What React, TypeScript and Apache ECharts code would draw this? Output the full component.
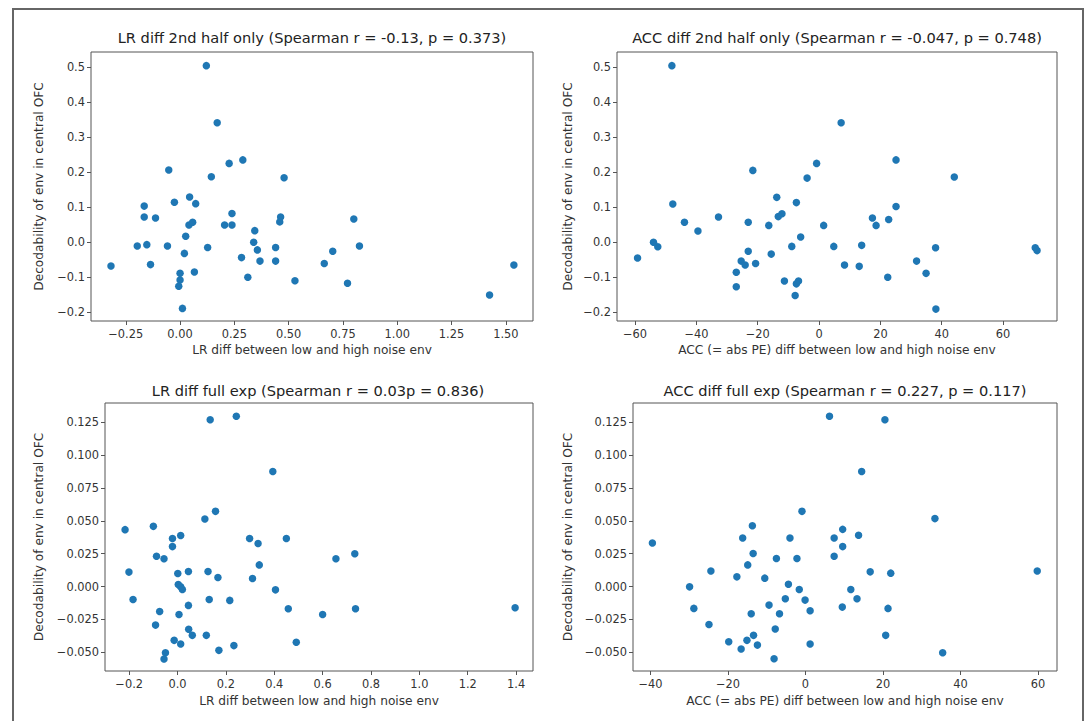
import React, { useEffect, useRef } from "react";
import * as echarts from "echarts";

// Panel 1: LR diff 2nd half only
const lr2X = [0.121, 0.171, 0.289, 0.226, -0.052, 0.144, 0.479, -0.165, -0.026, 0.044, 0.072, -0.165, -0.113, 0.239, 0.205, 0.239, 0.041, 0.058, 0.463, 0.459, 0.8, 0.026, 0.344, -0.197, -0.153, -0.058, 0.127, 0.339, 0.356, 0.44, 0.826, 0.703, 0.02, -0.318, -0.136, 0.283, 0.368, 0.44, 0.664, 1.537, 0.066, 0.0, 0.0, -0.006, 0.312, 0.529, 0.771, 1.425, 0.011];
const lr2Y = [0.504, 0.341, 0.235, 0.225, 0.206, 0.187, 0.184, 0.103, 0.114, 0.129, 0.11, 0.072, 0.069, 0.082, 0.049, 0.049, 0.049, 0.057, 0.072, 0.058, 0.066, 0.017, 0.033, -0.011, -0.007, -0.011, -0.015, 0.0, -0.022, -0.015, -0.011, -0.026, -0.032, -0.068, -0.064, -0.044, -0.054, -0.054, -0.061, -0.065, -0.085, -0.089, -0.108, -0.126, -0.1, -0.11, -0.117, -0.151, -0.189];

// Panel 2: ACC diff 2nd half only
const acc2X = [-48.0, 7.2, 25.1, -0.8, -21.6, -3.9, 44.1, -13.8, -47.7, -7.4, 25.1, -13.3, -12.1, -32.8, -43.9, -23.1, -16.4, 1.5, 17.4, 18.6, 22.7, -39.5, -6.0, -54.0, -52.6, -59.2, -8.9, 4.8, 13.9, 38.0, 70.5, 71.1, -23.1, -15.6, -25.4, -24.1, -20.7, -27.0, 8.3, 13.1, 31.8, 34.9, 22.4, -11.3, -6.7, -7.4, -27.0, -7.8, 38.1];
const acc2Y = [0.504, 0.341, 0.235, 0.225, 0.205, 0.183, 0.186, 0.128, 0.109, 0.113, 0.102, 0.073, 0.081, 0.072, 0.057, 0.057, 0.048, 0.048, 0.069, 0.048, 0.065, 0.032, 0.015, 0.0, -0.013, -0.045, -0.012, -0.012, -0.009, -0.016, -0.016, -0.024, -0.026, -0.034, -0.054, -0.065, -0.061, -0.086, -0.065, -0.069, -0.054, -0.089, -0.1, -0.111, -0.111, -0.119, -0.127, -0.152, -0.191];

// Panel 3: LR diff full exp
const lrFX = [0.135, 0.243, 0.394, 0.157, 0.113, -0.217, -0.1, 0.013, -0.021, -0.021, 0.298, 0.333, 0.45, -0.087, -0.056, 0.733, 0.655, 0.338, -0.201, 0.001, 0.045, 0.126, 0.167, 0.31, 0.003, 0.013, 0.02, 0.405, -0.184, 0.131, 0.216, 0.045, -0.074, 0.458, 0.736, 1.396, 0.6, 0.006, -0.091, 0.046, 0.061, 0.119, -0.014, 0.013, 0.233, 0.491, 0.171, -0.05, -0.056];
const lrFY = [0.1268, 0.1295, 0.0875, 0.0572, 0.0514, 0.0433, 0.0458, 0.0388, 0.0365, 0.0304, 0.0365, 0.0327, 0.0365, 0.0231, 0.0211, 0.0249, 0.0211, 0.0165, 0.011, 0.01, 0.0115, 0.0115, 0.0069, 0.0061, 0.0016, -0.0002, -0.0022, -0.0025, -0.0098, -0.0098, -0.0105, -0.0143, -0.0189, -0.0169, -0.0169, -0.0161, -0.0212, -0.0212, -0.0293, -0.0325, -0.0371, -0.0371, -0.0409, -0.0437, -0.0449, -0.0424, -0.0485, -0.0503, -0.0551];

// Panel 4: ACC diff full exp
const accFX = [6.2, 20.5, 14.5, -0.9, 33.4, -39.5, -13.7, -16.2, -4.0, 9.6, 7.4, 13.7, 9.6, -13.5, 7.4, -7.5, -2.2, -14.9, -24.4, 16.7, 22.0, 59.8, -17.7, -10.5, -29.9, -4.4, -1.6, 11.7, -5.2, -0.1, 13.3, -28.8, 1.2, -9.4, 9.5, 21.3, -14.0, -6.7, -24.9, -7.8, -13.4, 20.7, -19.8, -15.1, -12.4, 1.2, -16.6, 35.4, -8.1];
const accFY = [0.1295, 0.1268, 0.0875, 0.0572, 0.0517, 0.0332, 0.0463, 0.037, 0.037, 0.0435, 0.037, 0.039, 0.0304, 0.0251, 0.0231, 0.0213, 0.0213, 0.0165, 0.0119, 0.0112, 0.0102, 0.0119, 0.0074, 0.0064, -0.0002, 0.0018, -0.0022, -0.0022, -0.0093, -0.0103, -0.0093, -0.0166, -0.0184, -0.0141, -0.0156, -0.0166, -0.0207, -0.0207, -0.0288, -0.0323, -0.0371, -0.0371, -0.0419, -0.0409, -0.0445, -0.0437, -0.0475, -0.0503, -0.0549];

// Tick values
const lr2XTicks = [-0.25, 0, 0.25, 0.5, 0.75, 1.0, 1.25, 1.5];
const acc2XTicks = [-60, -40, -20, 0, 20, 40, 60];
const topYTicks = [-0.2, -0.1, 0, 0.1, 0.2, 0.3, 0.4, 0.5];
const lrFXTicks = [-0.2, 0, 0.2, 0.4, 0.6, 0.8, 1.0, 1.2, 1.4];
const accFXTicks = [-40, -20, 0, 20, 40, 60];
const botYTicks = [-0.05, -0.025, 0, 0.025, 0.05, 0.075, 0.1, 0.125];

const titles = [
  "LR diff 2nd half only (Spearman r = -0.13, p = 0.373)",
  "ACC diff 2nd half only (Spearman r = -0.047, p = 0.748)",
  "LR diff full exp (Spearman r = 0.03p = 0.836)",
  "ACC diff full exp (Spearman r = 0.227, p = 0.117)",
];
const xNames = [
  "LR diff between low and high noise env",
  "ACC (= abs PE) diff between low and high noise env",
  "LR diff between low and high noise env",
  "ACC (= abs PE) diff between low and high noise env",
];
const yName = "Decodability of env in central OFC";

const FONT = "DejaVu Sans";
const BLUE = "#1f77b4";
const SPINE = "#555";
const TXT = "#333";

const fmt = (d: number) => (v: number) => {
  const s = Math.abs(v) < 1e-9 ? (0).toFixed(d) : v.toFixed(d);
  return s.replace("-", "\u2212");
};

export default function App() {
  const ref = useRef<HTMLDivElement>(null);
  useEffect(() => {
    if (!ref.current) return;
    const chart = echarts.init(ref.current, undefined, { renderer: "svg" });

    const grids = [
      { left: 91, top: 52, width: 442, height: 269 },
      { left: 617, top: 52, width: 440, height: 269 },
      { left: 105, top: 403, width: 428, height: 268 },
      { left: 633, top: 403, width: 424, height: 268 },
    ];
    const xCfg = [
      { min: -0.41, max: 1.625, ticks: lr2XTicks, d: 2, gap: 23 },
      { min: -65.9, max: 77.6, ticks: acc2XTicks, d: 0, gap: 23 },
      { min: -0.3, max: 1.47, ticks: lrFXTicks, d: 1, gap: 24 },
      { min: -44.5, max: 64.9, ticks: accFXTicks, d: 0, gap: 24 },
    ];
    const yCfg = [
      { min: -0.225, max: 0.543, ticks: topYTicks, d: 1, gap: 46 },
      { min: -0.225, max: 0.543, ticks: topYTicks, d: 1, gap: 43 },
      { min: -0.0642, max: 0.1396, ticks: botYTicks, d: 3, gap: 60 },
      { min: -0.0642, max: 0.1396, ticks: botYTicks, d: 3, gap: 59 },
    ];
    const data = [
      lr2X.map((x, i) => [x, lr2Y[i]]),
      acc2X.map((x, i) => [x, acc2Y[i]]),
      lrFX.map((x, i) => [x, lrFY[i]]),
      accFX.map((x, i) => [x, accFY[i]]),
    ];
    const titleCenters = [
      { x: 312, y: 30 },
      { x: 837, y: 30 },
      { x: 318, y: 383 },
      { x: 845, y: 383 },
    ];

    const option: any = {
      animation: false,
      backgroundColor: "#fff",
      textStyle: { fontFamily: FONT },
      title: titles.map((t, i) => ({
        text: t,
        left: titleCenters[i].x,
        top: titleCenters[i].y,
        textAlign: "center",
        padding: 0,
        textStyle: { fontFamily: FONT, fontSize: 14.6, fontWeight: "normal", color: "#222" },
      })),
      grid: grids.map((g) => ({
        ...g,
        show: true,
        borderColor: SPINE,
        borderWidth: 1,
        backgroundColor: "#fff",
        containLabel: false,
      })),
      xAxis: xCfg.map((c, i) => ({
        type: "value",
        gridIndex: i,
        min: c.min,
        max: c.max,
        name: xNames[i],
        nameLocation: "middle",
        nameGap: c.gap,
        nameTextStyle: { fontFamily: FONT, fontSize: 12.2, color: TXT },
        axisLine: { show: false, onZero: false },
        axisTick: { show: true, length: 4, inside: false, customValues: c.ticks, lineStyle: { color: SPINE } },
        axisLabel: { show: true, customValues: c.ticks, formatter: fmt(c.d), margin: 7, fontFamily: FONT, fontSize: 11.4, color: TXT },
        splitLine: { show: false },
      })),
      yAxis: yCfg.map((c, i) => ({
        type: "value",
        gridIndex: i,
        min: c.min,
        max: c.max,
        name: yName,
        nameLocation: "middle",
        nameGap: c.gap,
        nameTextStyle: { fontFamily: FONT, fontSize: 12.2, color: TXT },
        axisLine: { show: false, onZero: false },
        axisTick: { show: true, length: 4, inside: false, customValues: c.ticks, lineStyle: { color: SPINE } },
        axisLabel: { show: true, customValues: c.ticks, formatter: fmt(c.d), margin: 6, fontFamily: FONT, fontSize: 11.4, color: TXT },
        splitLine: { show: false },
      })),
      series: data.map((d, i) => ({
        type: "scatter",
        xAxisIndex: i,
        yAxisIndex: i,
        data: d,
        symbolSize: 7.5,
        itemStyle: { color: BLUE, opacity: 1 },
      })),
      graphic: [
        {
          type: "rect",
          shape: { x: 13, y: 9, width: 1070, height: 730 },
          style: { fill: "none", stroke: "#666", lineWidth: 2 },
          silent: true,
          z: 100,
        },
      ],
    };
    chart.setOption(option);
    return () => chart.dispose();
  }, []);
  return (
    <div
      ref={ref}
      style={{ position: "fixed", left: 0, top: 0, width: 1088, height: 721 }}
    />
  );
}
